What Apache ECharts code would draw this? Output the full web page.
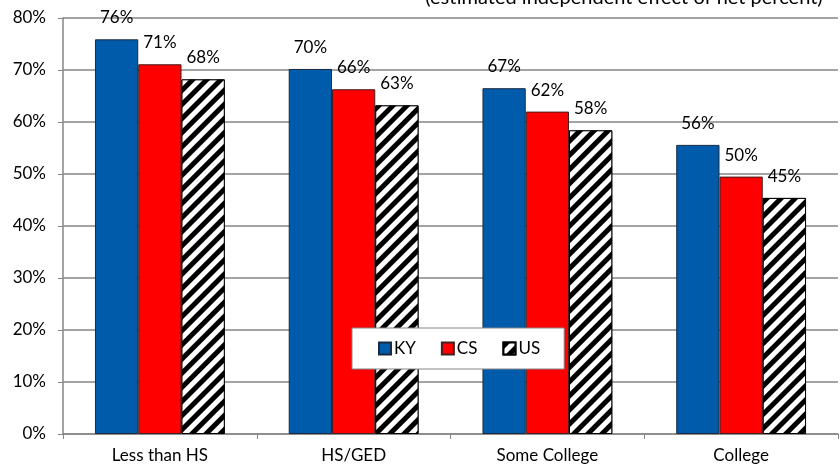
<!DOCTYPE html>
<html>
<head>
<meta charset="utf-8">
<script src="https://cdn.jsdelivr.net/npm/echarts@6/dist/echarts.min.js"></script>
<style>html,body{margin:0;padding:0;background:#fff}#c{width:840px;height:472px}</style>
</head>
<body>
<div id="c"></div>
<script>
var categories = ['Less than HS', 'HS/GED', 'Some College', 'College'];
var seriesNames = ['KY', 'CS', 'US'];
var kyValues = [75.9, 70.2, 66.5, 55.6];
var csValues = [71.1, 66.3, 62.0, 49.5];
var usValues = [68.2, 63.2, 58.4, 45.4];
var titleText = '(estimated independent effect of net percent)';

var FONT = 'Lato, "Open Sans", sans-serif';
var chart = echarts.init(document.getElementById('c'), null, {renderer: 'canvas'});
var labelCfg = {
  show: true, position: 'top', distance: 13, color: '#000',
  fontFamily: FONT, fontSize: 17,
  formatter: function (p) { return Math.round(p.value) + '%'; }
};
chart.setOption({
  animation: false,
  backgroundColor: '#fff',
  graphic: [{
    type: 'text', x: 624, y: 8,
    style: { text: titleText, fontFamily: FONT, fontSize: 20, fill: '#000',
             textAlign: 'center', textVerticalAlign: 'bottom' }
  }],
  legend: {
    data: seriesNames,
    left: 352, top: 328,
    padding: [12, 24, 12, 26],
    itemWidth: 12, itemHeight: 12, itemGap: 25,
    icon: 'rect',
    backgroundColor: '#fff', borderColor: '#868686', borderWidth: 1,
    textStyle: { fontFamily: FONT, fontSize: 17, color: '#000', padding: [0,0,0,-2] }
  },
  grid: { left: 63, right: 2, top: 18, bottom: 38, containLabel: false },
  xAxis: {
    type: 'category', data: categories,
    axisLine: { lineStyle: { color: '#868686', width: 1.5 } },
    axisTick: { show: true, length: 5, lineStyle: { color: '#868686' } },
    axisLabel: { fontFamily: FONT, fontSize: 17, color: '#000', margin: 13 }
  },
  yAxis: {
    type: 'value', min: 0, max: 80, interval: 10,
    axisLine: { show: true, lineStyle: { color: '#868686', width: 1.5 } },
    axisTick: { show: true, length: 5, lineStyle: { color: '#868686' } },
    splitLine: { lineStyle: { color: '#868686', width: 1.5 } },
    axisLabel: { fontFamily: FONT, fontSize: 17, color: '#000', margin: 17,
                 formatter: '{value}%' }
  },
  series: [
    { name: 'KY', type: 'bar', data: kyValues, barGap: '0%', barCategoryGap: '33%',
      itemStyle: { color: '#005BAA', borderColor: '#1a2a40', borderWidth: 1 },
      label: labelCfg },
    { name: 'CS', type: 'bar', data: csValues, barGap: '0%', barCategoryGap: '33%',
      itemStyle: { color: '#FF0000', borderColor: '#402020', borderWidth: 1 },
      label: labelCfg },
    { name: 'US', type: 'bar', data: usValues, barGap: '0%', barCategoryGap: '33%',
      itemStyle: { color: '#ffffff', borderColor: '#000', borderWidth: 1,
        decal: { symbol: 'rect', color: '#000', backgroundColor: '#fff',
                 dashArrayX: [1, 0], dashArrayY: [5, 5], rotation: -Math.PI / 4 } },
      label: labelCfg }
  ]
});
</script>
</body>
</html>
